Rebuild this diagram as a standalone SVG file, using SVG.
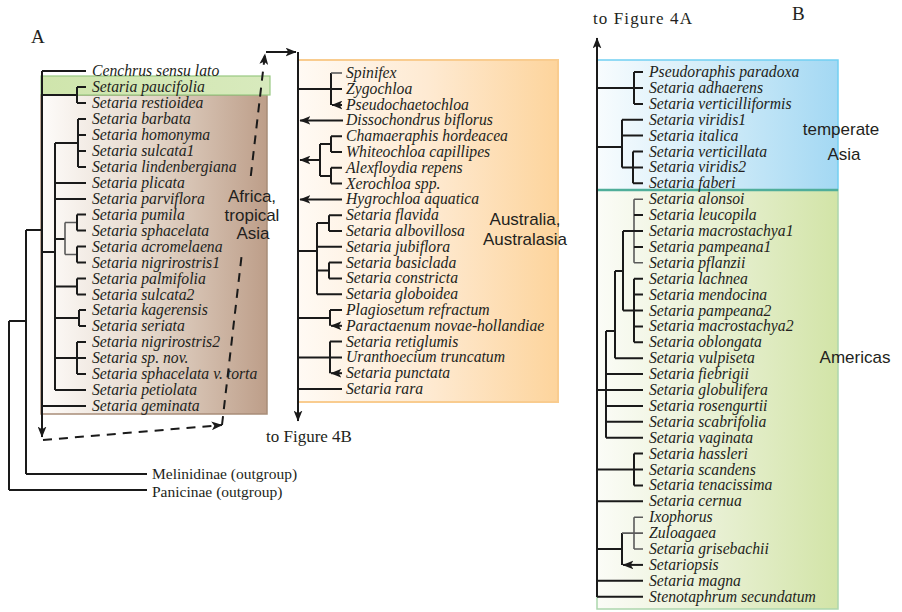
<svg xmlns="http://www.w3.org/2000/svg" width="902" height="612" viewBox="0 0 902 612">
<style>
.t{font-family:"Liberation Serif","Times New Roman",serif;font-style:italic;font-size:15.7px;fill:#231f20}
.r{font-family:"Liberation Serif","Times New Roman",serif;font-size:17px;fill:#231f20}
.o{font-family:"Liberation Serif","Times New Roman",serif;font-size:15.5px;fill:#231f20}
.s{font-family:"Liberation Sans",Arial,sans-serif;font-size:17px;fill:#231f20;text-anchor:middle}
.e{fill:none;stroke:#1a1a1a;stroke-width:2}
.g{stroke:#5a5a5a;stroke-width:1.6}
.d{stroke-dasharray:9 7}
</style>
<defs>
<marker id="ah" viewBox="0 0 10 8" refX="9.5" refY="4" markerWidth="11" markerHeight="9" markerUnits="userSpaceOnUse" orient="auto">
<path d="M0,0 L10,4 L0,8 L2.5,4 Z" fill="#1a1a1a"/>
</marker>
<linearGradient id="brownG" x1="0" x2="1" y1="0" y2="0">
<stop offset="0" stop-color="#fefcfa"/><stop offset="0.5" stop-color="#e3d5c8"/><stop offset="1" stop-color="#bd9e89"/>
</linearGradient>
<linearGradient id="greenBand" x1="0" x2="1" y1="0" y2="0">
<stop offset="0" stop-color="#cfe5ac"/><stop offset="1" stop-color="#d8eabd"/>
</linearGradient>
<linearGradient id="orangeG" x1="0" x2="1" y1="0" y2="0">
<stop offset="0" stop-color="#fffaf4"/><stop offset="0.5" stop-color="#feead2"/><stop offset="1" stop-color="#fdd49c"/>
</linearGradient>
<linearGradient id="blueG" x1="0" x2="1" y1="0" y2="0">
<stop offset="0" stop-color="#f8fcfe"/><stop offset="0.5" stop-color="#d0ebf8"/><stop offset="1" stop-color="#a3d8f3"/>
</linearGradient>
<linearGradient id="greenG" x1="0" x2="1" y1="0" y2="0">
<stop offset="0" stop-color="#fbfcf7"/><stop offset="0.5" stop-color="#e8f0d3"/><stop offset="1" stop-color="#d2e4a7"/>
</linearGradient>
</defs>

<g id="regions">
<rect x="41" y="95" width="226" height="319" fill="url(#brownG)" stroke="#a88d78" stroke-width="1.5"/>
<rect x="41" y="76" width="229" height="19" fill="url(#greenBand)" stroke="#98c982" stroke-width="1.2"/>
<rect x="298" y="60" width="260" height="342" fill="url(#orangeG)" stroke="#f9cc8f" stroke-width="2"/>
<rect x="597" y="60" width="241" height="130" fill="url(#blueG)" stroke="#72cff2" stroke-width="1.5"/>
<rect x="597" y="190" width="241" height="419" fill="url(#greenG)" stroke="#acd6ad" stroke-width="1.5"/>
<line x1="597" y1="190" x2="838" y2="190" stroke="#4fae9a" stroke-width="2.5"/>
</g>

<g id="panel-labels">
<text class="r" x="31" y="43" style="font-size:19px">A</text>
<text class="r" x="792" y="20" style="font-size:19px">B</text>
<text class="r" x="266" y="442">to Figure 4B</text>
<text class="r" x="593" y="24" style="letter-spacing:1.1px">to Figure 4A</text>
<text class="s" x="252" y="202">Africa,</text>
<text class="s" x="252" y="221">tropical</text>
<text class="s" x="253" y="239">Asia</text>
<text class="s" x="525" y="225">Australia,</text>
<text class="s" x="525" y="245">Australasia</text>
<text class="s" x="841" y="135">temperate</text>
<text class="s" x="844" y="160">Asia</text>
<text class="s" x="855" y="363">Americas</text>
</g>

<g id="connectors">
<!-- Panel A -->
<path class="e" d="M42,71 H86"/>
<path class="e" d="M42,71 V437" marker-end="url(#ah)"/>
<path class="e" d="M42,95 H77 M77,87 V103 M77,87 H86 M77,103 H86"/>
<path class="e" d="M42,252 H55 M55,143 V390"/>
<path class="e" d="M55,143 H78 M78,119 V167 M78,119 H86 M78,135 H86 M78,151 H86 M78,167 H86"/>
<path class="e" d="M55,183 H86 M55,199 H86"/>
<path class="e" d="M55,239 H65"/>
<path class="e g" d="M65,222.5 V254.5 M65,222.5 H77 M65,254.5 H77"/>
<path class="e" d="M77,214.5 V230.5 M77,214.5 H86 M77,230.5 H86 M77,246.5 V262.5 M77,246.5 H86 M77,262.5 H86"/>
<path class="e" d="M55,286.5 H77 M77,278.5 V294.5 M77,278.5 H86 M77,294.5 H86"/>
<path class="e" d="M55,318 H79 M79,310 V326 M79,310 H86 M79,326 H86"/>
<path class="e" d="M55,358 H86 M77,342 V374 M77,342 H86 M77,374 H86"/>
<path class="e" d="M55,390 H86 M42,406 H86"/>
<path class="e" d="M26,230 H42 M26,230 V474 M26,474 H147"/>
<path class="e" d="M9,321 H26 M9,321 V490 M9,490 H147"/>
<path class="e d" d="M43,440 L222,425" marker-end="url(#ah)"/>
<path class="e d" d="M222,425 L241.7,255"/>
<path class="e d" d="M250.8,176 L265,54" marker-end="url(#ah)"/>
<path class="e" d="M266,52 H296" marker-end="url(#ah)"/>
<!-- Panel A, Australia -->
<path class="e" d="M298,52 V421" marker-end="url(#ah)"/>
<path class="e" d="M298,89 H342 M331,73 V105"/>
<path class="e g" d="M331,73 H342"/>
<path class="e" d="M342,105 H332" marker-end="url(#ah)"/>
<path class="e" d="M343,120.4 H300" marker-end="url(#ah)"/>
<path class="e" d="M320,144 V176 M320,144 H331 M320,176 H331 M331,136.2 V152 M331,136.2 H342 M331,152 H342 M331,167.8 V183.6 M331,167.8 H342 M331,183.6 H342"/>
<path class="e" d="M320,160 H300" marker-end="url(#ah)"/>
<path class="e" d="M342,199.4 H300" marker-end="url(#ah)"/>
<path class="e" d="M298,251 H317 M317,223 V294.2 M317,223 H329 M329,215.2 V231 M329,215.2 H342 M329,231 H342 M317,246.8 H342 M317,270.5 H329 M329,262.6 V278.4 M329,262.6 H342 M329,278.4 H342 M317,294.2 H342"/>
<path class="e" d="M298,318 H330 M330,310 V325.8 M330,310 H342"/>
<path class="e" d="M342,325.8 H331" marker-end="url(#ah)"/>
<path class="e" d="M298,357.4 H342 M330,341.6 V373.2 M330,341.6 H342"/>
<path class="e" d="M342,373.2 H331" marker-end="url(#ah)"/>
<path class="e" d="M298,389 H342"/>
<!-- Panel B -->
<path class="e" d="M597,597 V38" marker-end="url(#ah)"/>
<path class="e" d="M597,88 H643 M634,72 V104 M634,72 H643 M634,104 H643"/>
<path class="e" d="M597,147 H622 M622,119.7 V167.4 M622,119.7 H643 M622,135.6 H643 M622,167.4 H643 M633,151.5 V183.3 M633,151.5 H643 M633,183.3 H643"/>
<path class="e g" d="M634,199.2 V262.8 M634,199.2 H643 M634,262.8 H643"/>
<path class="e" d="M634,215.1 H643 M623,231 H643 M634,246.9 H643"/>
<path class="e" d="M634,278.7 V342.3 M634,278.7 H643 M634,294.6 H643 M623,310.5 H643 M634,326.4 H643 M634,342.3 H643"/>
<path class="e" d="M623,231 V310.5 M615,271 H623 M615,271 V358.2 M615,358.2 H643"/>
<path class="e" d="M606,331 H615 M606,331 V437.7 M606,374.1 H643 M597,390 H643 M606,405.9 H643 M606,421.8 H643 M606,437.7 H643"/>
<path class="e" d="M597,469.5 H643 M634,453.6 V485.4 M634,453.6 H643 M634,485.4 H643"/>
<path class="e" d="M597,501.3 H643"/>
<path class="e" d="M597,549 H622 M622,533 V565"/>
<path class="e g" d="M622,533.1 H634 M634,517.2 V549 M634,517.2 H643 M634,533.1 H643 M634,549 H643"/>
<path class="e" d="M643,564.9 H623" marker-end="url(#ah)"/>
<path class="e" d="M597,580.8 H643 M597,596.7 H643"/>
</g>

<g id="taxa-A">
<text id="n-cenchrus" class="t" x="92" y="76">Cenchrus sensu lato</text>
<text id="n-paucifolia" class="t" x="92" y="92">Setaria paucifolia</text>
<text id="n-restioidea" class="t" x="92" y="108">Setaria restioidea</text>
<text id="n-barbata" class="t" x="92" y="124">Setaria barbata</text>
<text id="n-homonyma" class="t" x="92" y="140">Setaria homonyma</text>
<text id="n-sulcata1" class="t" x="92" y="156">Setaria sulcata1</text>
<text id="n-lindenbergiana" class="t" x="92" y="172">Setaria lindenbergiana</text>
<text id="n-plicata" class="t" x="92" y="188">Setaria plicata</text>
<text id="n-parviflora" class="t" x="92" y="204">Setaria parviflora</text>
<text id="n-pumila" class="t" x="92" y="219.5">Setaria pumila</text>
<text id="n-sphacelata" class="t" x="92" y="235.5">Setaria sphacelata</text>
<text id="n-acromelaena" class="t" x="92" y="251.5">Setaria acromelaena</text>
<text id="n-nigrirostris1" class="t" x="92" y="267.5">Setaria nigrirostris1</text>
<text id="n-palmifolia" class="t" x="92" y="283.5">Setaria palmifolia</text>
<text id="n-sulcata2" class="t" x="92" y="299.5">Setaria sulcata2</text>
<text id="n-kagerensis" class="t" x="92" y="315">Setaria kagerensis</text>
<text id="n-seriata" class="t" x="92" y="331">Setaria seriata</text>
<text id="n-nigrirostris2" class="t" x="92" y="347">Setaria nigrirostris2</text>
<text id="n-spnov" class="t" x="92" y="363">Setaria sp. nov.</text>
<text id="n-torta" class="t" x="92" y="379">Setaria sphacelata v. torta</text>
<text id="n-petiolata" class="t" x="92" y="395">Setaria petiolata</text>
<text id="n-geminata" class="t" x="92" y="411">Setaria geminata</text>
<text id="n-melinidinae" class="o" x="152" y="479">Melinidinae (outgroup)</text>
<text id="n-panicinae" class="o" x="152" y="496.5">Panicinae (outgroup)</text>
</g>

<g id="taxa-Australia">
<text id="n-spinifex" class="t" x="346" y="78">Spinifex</text>
<text id="n-zygochloa" class="t" x="346" y="93.8">Zygochloa</text>
<text id="n-pseudochaetochloa" class="t" x="346" y="109.6">Pseudochaetochloa</text>
<text id="n-dissochondrus" class="t" x="346" y="125.4">Dissochondrus biflorus</text>
<text id="n-chamaeraphis" class="t" x="346" y="141.2">Chamaeraphis hordeacea</text>
<text id="n-whiteochloa" class="t" x="346" y="157">Whiteochloa capillipes</text>
<text id="n-alexfloydia" class="t" x="346" y="172.8">Alexfloydia repens</text>
<text id="n-xerochloa" class="t" x="346" y="188.6">Xerochloa spp.</text>
<text id="n-hygrochloa" class="t" x="346" y="204.4">Hygrochloa aquatica</text>
<text id="n-flavida" class="t" x="346" y="220.2">Setaria flavida</text>
<text id="n-albovillosa" class="t" x="346" y="236">Setaria albovillosa</text>
<text id="n-jubiflora" class="t" x="346" y="251.8">Setaria jubiflora</text>
<text id="n-basiclada" class="t" x="346" y="267.6">Setaria basiclada</text>
<text id="n-constricta" class="t" x="346" y="283.4">Setaria constricta</text>
<text id="n-globoidea" class="t" x="346" y="299.2">Setaria globoidea</text>
<text id="n-plagiosetum" class="t" x="346" y="315">Plagiosetum refractum</text>
<text id="n-paractaenum" class="t" x="346" y="330.8">Paractaenum novae-hollandiae</text>
<text id="n-retiglumis" class="t" x="346" y="346.6">Setaria retiglumis</text>
<text id="n-uranthoecium" class="t" x="346" y="362.4">Uranthoecium truncatum</text>
<text id="n-punctata" class="t" x="346" y="378.2">Setaria punctata</text>
<text id="n-rara" class="t" x="346" y="394">Setaria rara</text>
</g>

<g id="taxa-B">
<text id="n-pseudoraphis" class="t" x="649" y="77">Pseudoraphis paradoxa</text>
<text id="n-adhaerens" class="t" x="649" y="92.9">Setaria adhaerens</text>
<text id="n-verticilliformis" class="t" x="649" y="108.8">Setaria verticilliformis</text>
<text id="n-viridis1" class="t" x="649" y="124.7">Setaria viridis1</text>
<text id="n-italica" class="t" x="649" y="140.6">Setaria italica</text>
<text id="n-verticillata" class="t" x="649" y="156.5">Setaria verticillata</text>
<text id="n-viridis2" class="t" x="649" y="172.4">Setaria viridis2</text>
<text id="n-faberi" class="t" x="649" y="188.3">Setaria faberi</text>
<text id="n-alonsoi" class="t" x="649" y="204.2">Setaria alonsoi</text>
<text id="n-leucopila" class="t" x="649" y="220.1">Setaria leucopila</text>
<text id="n-macrostachya1" class="t" x="649" y="236">Setaria macrostachya1</text>
<text id="n-pampeana1" class="t" x="649" y="251.9">Setaria pampeana1</text>
<text id="n-pflanzii" class="t" x="649" y="267.8">Setaria pflanzii</text>
<text id="n-lachnea" class="t" x="649" y="283.7">Setaria lachnea</text>
<text id="n-mendocina" class="t" x="649" y="299.6">Setaria mendocina</text>
<text id="n-pampeana2" class="t" x="649" y="315.5">Setaria pampeana2</text>
<text id="n-macrostachya2" class="t" x="649" y="331.4">Setaria macrostachya2</text>
<text id="n-oblongata" class="t" x="649" y="347.3">Setaria oblongata</text>
<text id="n-vulpiseta" class="t" x="649" y="363.2">Setaria vulpiseta</text>
<text id="n-fiebrigii" class="t" x="649" y="379.1">Setaria fiebrigii</text>
<text id="n-globulifera" class="t" x="649" y="395">Setaria globulifera</text>
<text id="n-rosengurtii" class="t" x="649" y="410.9">Setaria rosengurtii</text>
<text id="n-scabrifolia" class="t" x="649" y="426.8">Setaria scabrifolia</text>
<text id="n-vaginata" class="t" x="649" y="442.7">Setaria vaginata</text>
<text id="n-hassleri" class="t" x="649" y="458.6">Setaria hassleri</text>
<text id="n-scandens" class="t" x="649" y="474.5">Setaria scandens</text>
<text id="n-tenacissima" class="t" x="649" y="490.4">Setaria tenacissima</text>
<text id="n-cernua" class="t" x="649" y="506.3">Setaria cernua</text>
<text id="n-ixophorus" class="t" x="649" y="522.2">Ixophorus</text>
<text id="n-zuloagaea" class="t" x="649" y="538.1">Zuloagaea</text>
<text id="n-grisebachii" class="t" x="649" y="554">Setaria grisebachii</text>
<text id="n-setariopsis" class="t" x="649" y="569.9">Setariopsis</text>
<text id="n-magna" class="t" x="649" y="585.8">Setaria magna</text>
<text id="n-stenotaphrum" class="t" x="649" y="601.7">Stenotaphrum secundatum</text>
</g>
</svg>
